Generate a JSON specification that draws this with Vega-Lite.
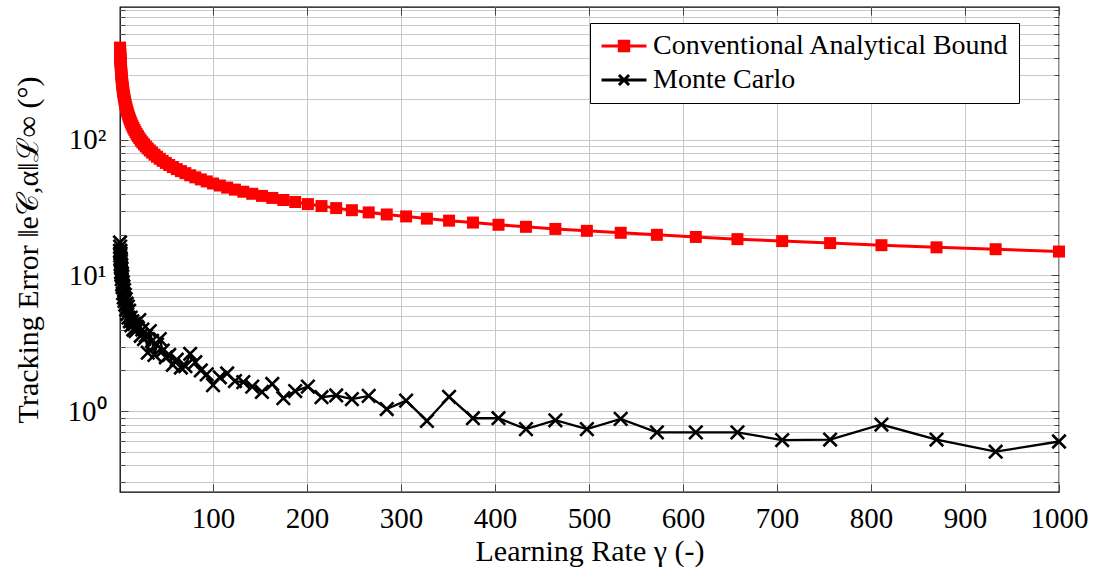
{
  "$schema": "https://vega.github.io/schema/vega-lite/v6.json",
  "width": 939,
  "height": 485,
  "autosize": {"type": "none"},
  "padding": {"left": 120, "top": 7, "right": 35, "bottom": 87},
  "background": "white",
  "config": {
    "view": {"stroke": "black", "strokeWidth": 1.3},
    "font": "Liberation Serif",
    "legend": {
      "orient": "none",
      "legendX": 470,
      "legendY": 16,
      "strokeColor": "black",
      "fillColor": "white",
      "strokeWidth": 1,
      "padding": 9,
      "labelFont": "Liberation Serif",
      "labelFontSize": 28,
      "labelColor": "black",
      "labelLimit": 600,
      "symbolSize": 506,
      "symbolStrokeWidth": 3,
      "symbolOffset": 11,
      "rowPadding": 6,
      "labelOffset": 15,
      "cornerRadius": 0
    }
  },
  "datasets": {
    "bound": [
      {"gamma": 1, "error": 475}, {"gamma": 1.072, "error": 458.7}, {"gamma": 1.15, "error": 443}, {"gamma": 1.233, "error": 427.8},
      {"gamma": 1.322, "error": 413.1}, {"gamma": 1.417, "error": 399}, {"gamma": 1.52, "error": 385.3}, {"gamma": 1.63, "error": 372.1},
      {"gamma": 1.748, "error": 359.3}, {"gamma": 1.874, "error": 347}, {"gamma": 2.009, "error": 335.1}, {"gamma": 2.154, "error": 323.6},
      {"gamma": 2.31, "error": 312.5}, {"gamma": 2.477, "error": 301.8}, {"gamma": 2.656, "error": 291.5}, {"gamma": 2.848, "error": 281.5},
      {"gamma": 3.054, "error": 271.8}, {"gamma": 3.275, "error": 262.5}, {"gamma": 3.511, "error": 253.5}, {"gamma": 3.765, "error": 244.8},
      {"gamma": 4.037, "error": 236.4}, {"gamma": 4.329, "error": 228.3}, {"gamma": 4.642, "error": 220.5}, {"gamma": 4.977, "error": 212.9},
      {"gamma": 5.337, "error": 205.6}, {"gamma": 5.722, "error": 198.6}, {"gamma": 6.136, "error": 191.8}, {"gamma": 6.579, "error": 185.2},
      {"gamma": 7.055, "error": 178.8}, {"gamma": 7.565, "error": 172.7}, {"gamma": 8.111, "error": 166.8}, {"gamma": 8.697, "error": 161.1},
      {"gamma": 9.326, "error": 155.5}, {"gamma": 10, "error": 150.2}, {"gamma": 10.72, "error": 145.1}, {"gamma": 11.5, "error": 140.1},
      {"gamma": 12.33, "error": 135.3}, {"gamma": 13.22, "error": 130.6}, {"gamma": 14.17, "error": 126.2}, {"gamma": 15.2, "error": 121.8},
      {"gamma": 16.3, "error": 117.7}, {"gamma": 17.48, "error": 113.6}, {"gamma": 18.74, "error": 109.7}, {"gamma": 20.09, "error": 106},
      {"gamma": 21.54, "error": 102.3}, {"gamma": 23.1, "error": 98.8}, {"gamma": 24.77, "error": 95.4}, {"gamma": 26.56, "error": 92.2},
      {"gamma": 28.48, "error": 89}, {"gamma": 30.54, "error": 86}, {"gamma": 32.75, "error": 83}, {"gamma": 35.11, "error": 80.2},
      {"gamma": 37.65, "error": 77.4}, {"gamma": 40.37, "error": 74.8}, {"gamma": 43.29, "error": 72.2}, {"gamma": 46.42, "error": 69.7},
      {"gamma": 49.77, "error": 67.3}, {"gamma": 53.37, "error": 65}, {"gamma": 57.22, "error": 62.8}, {"gamma": 61.36, "error": 60.6},
      {"gamma": 65.79, "error": 58.6}, {"gamma": 70.55, "error": 56.6}, {"gamma": 75.65, "error": 54.6}, {"gamma": 81.11, "error": 52.7},
      {"gamma": 86.98, "error": 50.9}, {"gamma": 93.26, "error": 49.2}, {"gamma": 100, "error": 47.5}, {"gamma": 107.2, "error": 45.9},
      {"gamma": 115, "error": 44.3}, {"gamma": 123.3, "error": 42.8}, {"gamma": 132.2, "error": 41.3}, {"gamma": 141.7, "error": 39.9},
      {"gamma": 152, "error": 38.5}, {"gamma": 163, "error": 37.2}, {"gamma": 174.8, "error": 35.9}, {"gamma": 187.4, "error": 34.7},
      {"gamma": 200.9, "error": 33.5}, {"gamma": 215.4, "error": 32.4}, {"gamma": 231, "error": 31.3}, {"gamma": 247.7, "error": 30.2},
      {"gamma": 265.6, "error": 29.1}, {"gamma": 284.8, "error": 28.1}, {"gamma": 305.4, "error": 27.2}, {"gamma": 327.5, "error": 26.2},
      {"gamma": 351.1, "error": 25.3}, {"gamma": 376.5, "error": 24.5}, {"gamma": 403.7, "error": 23.6}, {"gamma": 432.9, "error": 22.8},
      {"gamma": 464.2, "error": 22}, {"gamma": 497.7, "error": 21.3}, {"gamma": 533.7, "error": 20.6}, {"gamma": 572.2, "error": 19.9},
      {"gamma": 613.6, "error": 19.2}, {"gamma": 657.9, "error": 18.5}, {"gamma": 705.5, "error": 17.9}, {"gamma": 756.5, "error": 17.3},
      {"gamma": 811.1, "error": 16.7}, {"gamma": 869.7, "error": 16.1}, {"gamma": 932.6, "error": 15.6}, {"gamma": 1000, "error": 15}
    ],
    "montecarlo": [
      {"gamma": 1, "error": 17.5}, {"gamma": 1.072, "error": 15.2}, {"gamma": 1.15, "error": 16.3}, {"gamma": 1.233, "error": 14},
      {"gamma": 1.322, "error": 15.1}, {"gamma": 1.417, "error": 13.2}, {"gamma": 1.52, "error": 14.5}, {"gamma": 1.63, "error": 12.1},
      {"gamma": 1.748, "error": 13.4}, {"gamma": 1.874, "error": 11.5}, {"gamma": 2.009, "error": 12.8}, {"gamma": 2.154, "error": 10.6},
      {"gamma": 2.31, "error": 11.9}, {"gamma": 2.477, "error": 10.1}, {"gamma": 2.656, "error": 11.2}, {"gamma": 2.848, "error": 9.4},
      {"gamma": 3.054, "error": 10.3}, {"gamma": 3.275, "error": 8.6}, {"gamma": 3.511, "error": 9.8}, {"gamma": 3.765, "error": 8.2},
      {"gamma": 4.037, "error": 8.9}, {"gamma": 4.329, "error": 7.4}, {"gamma": 4.642, "error": 8.3}, {"gamma": 4.977, "error": 6.9},
      {"gamma": 5.337, "error": 7.8}, {"gamma": 5.722, "error": 6.5}, {"gamma": 6.136, "error": 7.2}, {"gamma": 6.579, "error": 6.1},
      {"gamma": 7.055, "error": 6.7}, {"gamma": 7.565, "error": 5.6}, {"gamma": 8.111, "error": 6.2}, {"gamma": 8.697, "error": 5.2},
      {"gamma": 9.326, "error": 5.9}, {"gamma": 10, "error": 4.9}, {"gamma": 10.72, "error": 5.5}, {"gamma": 11.5, "error": 4.6},
      {"gamma": 12.33, "error": 4.9}, {"gamma": 13.22, "error": 4.3}, {"gamma": 14.17, "error": 4.6}, {"gamma": 15.2, "error": 4},
      {"gamma": 16.3, "error": 4.4}, {"gamma": 17.48, "error": 3.9}, {"gamma": 18.74, "error": 4.2}, {"gamma": 20.09, "error": 4.1},
      {"gamma": 21.54, "error": 4.7}, {"gamma": 23.1, "error": 3.6}, {"gamma": 24.77, "error": 4}, {"gamma": 26.56, "error": 3.4},
      {"gamma": 28.48, "error": 3.6}, {"gamma": 30.54, "error": 2.7}, {"gamma": 32.75, "error": 3.9}, {"gamma": 35.11, "error": 3.3},
      {"gamma": 37.65, "error": 2.6}, {"gamma": 40.37, "error": 3.1}, {"gamma": 43.29, "error": 3.4}, {"gamma": 46.42, "error": 2.8},
      {"gamma": 49.77, "error": 2.5}, {"gamma": 53.37, "error": 2.6}, {"gamma": 57.22, "error": 2.2}, {"gamma": 61.36, "error": 2.4},
      {"gamma": 65.79, "error": 2.1}, {"gamma": 70.55, "error": 2.15}, {"gamma": 75.65, "error": 2.65}, {"gamma": 81.11, "error": 2.3},
      {"gamma": 86.98, "error": 2}, {"gamma": 93.26, "error": 1.87}, {"gamma": 100, "error": 1.56}, {"gamma": 107.2, "error": 1.78},
      {"gamma": 115, "error": 1.9}, {"gamma": 123.3, "error": 1.67}, {"gamma": 132.2, "error": 1.64}, {"gamma": 141.7, "error": 1.52},
      {"gamma": 152, "error": 1.39}, {"gamma": 163, "error": 1.59}, {"gamma": 174.8, "error": 1.25}, {"gamma": 187.4, "error": 1.41},
      {"gamma": 200.9, "error": 1.52}, {"gamma": 215.4, "error": 1.27}, {"gamma": 231, "error": 1.31}, {"gamma": 247.7, "error": 1.23},
      {"gamma": 265.6, "error": 1.3}, {"gamma": 284.8, "error": 1.04}, {"gamma": 305.4, "error": 1.2}, {"gamma": 327.5, "error": 0.85},
      {"gamma": 351.1, "error": 1.28}, {"gamma": 376.5, "error": 0.89}, {"gamma": 403.7, "error": 0.89}, {"gamma": 432.9, "error": 0.74},
      {"gamma": 464.2, "error": 0.86}, {"gamma": 497.7, "error": 0.74}, {"gamma": 533.7, "error": 0.88}, {"gamma": 572.2, "error": 0.7},
      {"gamma": 613.6, "error": 0.7}, {"gamma": 657.9, "error": 0.7}, {"gamma": 705.5, "error": 0.615}, {"gamma": 756.5, "error": 0.62},
      {"gamma": 811.1, "error": 0.8}, {"gamma": 869.7, "error": 0.62}, {"gamma": 932.6, "error": 0.505}, {"gamma": 1000, "error": 0.6}
    ],
    "series": [
      {"series": "Conventional Analytical Bound"},
      {"series": "Monte Carlo"}
    ]
  },
  "resolve": {"axis": {"x": "independent", "y": "independent"}},
  "layer": [
    {
      "data": {"name": "bound"},
      "mark": {"type": "line", "color": "#ff0000", "strokeWidth": 3},
      "encoding": {
        "x": {
          "field": "gamma", "type": "quantitative",
          "scale": {"type": "linear", "domain": [1, 1000], "nice": false, "zero": false},
          "axis": {
            "orient": "bottom",
            "values": [100, 200, 300, 400, 500, 600, 700, 800, 900, 1000],
            "format": "d",
            "grid": true, "gridColor": "#c8c8c8", "gridWidth": 1,
            "domain": false,
            "ticks": true, "tickSize": -8, "tickColor": "#444444", "tickWidth": 1,
            "labelFont": "Liberation Serif", "labelFontSize": 29, "labelColor": "black", "labelPadding": 20,
            "labelFlush": false,
            "title": "Learning Rate γ (-)",
            "titleFont": "Liberation Serif", "titleFontSize": 30, "titleFontWeight": "normal", "titleColor": "black",
            "titlePadding": 3
          }
        },
        "y": {
          "field": "error", "type": "quantitative",
          "scale": {"type": "log", "domain": [0.255, 945], "nice": false},
          "axis": {
            "orient": "left",
            "values": [0.3, 0.4, 0.5, 0.6, 0.7, 0.8, 0.9, 1, 2, 3, 4, 5, 6, 7, 8, 9, 10, 20, 30, 40, 50, 60, 70, 80, 90, 100, 200, 300, 400, 500, 600, 700, 800, 900],
            "grid": true, "gridColor": "#c8c8c8", "gridWidth": 1,
            "domain": false,
            "ticks": true,
            "tickSize": {"condition": {"test": "datum.value == 1 || datum.value == 10 || datum.value == 100", "value": -8}, "value": -5},
            "tickColor": "#444444", "tickWidth": 1,
            "labelExpr": "datum.value == 1 ? '10⁰' : datum.value == 10 ? '10¹' : datum.value == 100 ? '10²' : ''",
            "labelFont": "Liberation Serif", "labelFontSize": 29, "labelColor": "black", "labelPadding": 22,
            "labelFlush": false,
            "title": "Tracking Error ‖e𝒞,α‖ℒ∞ (°)",
            "titleFont": "Liberation Serif", "titleFontSize": 30, "titleFontWeight": "normal", "titleColor": "black",
            "titlePadding": 24
          }
        }
      }
    },
    {
      "data": {"name": "bound"},
      "mark": {"type": "point", "shape": "square", "filled": true, "color": "#ff0000", "size": 144, "opacity": 1},
      "encoding": {
        "x": {"field": "gamma", "type": "quantitative", "scale": {"type": "linear", "domain": [1, 1000], "nice": false, "zero": false}, "axis": null},
        "y": {"field": "error", "type": "quantitative", "scale": {"type": "log", "domain": [0.255, 945], "nice": false}, "axis": null}
      }
    },
    {
      "data": {"name": "montecarlo"},
      "mark": {"type": "line", "color": "#000000", "strokeWidth": 2.3},
      "encoding": {
        "x": {"field": "gamma", "type": "quantitative", "scale": {"type": "linear", "domain": [1, 1000], "nice": false, "zero": false}, "axis": null},
        "y": {"field": "error", "type": "quantitative", "scale": {"type": "log", "domain": [0.255, 945], "nice": false}, "axis": null}
      }
    },
    {
      "data": {"name": "montecarlo"},
      "mark": {"type": "point", "shape": "M-1,-1L1,1M-1,1L1,-1", "filled": false, "color": "#000000", "strokeWidth": 2.6, "size": 180, "opacity": 1},
      "encoding": {
        "x": {"field": "gamma", "type": "quantitative", "scale": {"type": "linear", "domain": [1, 1000], "nice": false, "zero": false}, "axis": null},
        "y": {"field": "error", "type": "quantitative", "scale": {"type": "log", "domain": [0.255, 945], "nice": false}, "axis": null}
      }
    },
    {
      "data": {"name": "series"},
      "transform": [{"filter": "false"}],
      "mark": {"type": "point", "filled": true, "strokeWidth": 3, "opacity": 1},
      "encoding": {
        "x": {
          "field": "gamma", "type": "quantitative",
          "scale": {"type": "linear", "domain": [1, 1000], "nice": false, "zero": false},
          "axis": {
            "orient": "top", "values": [100, 200, 300, 400, 500, 600, 700, 800, 900, 1000],
            "grid": false, "domain": false, "labels": false, "title": null,
            "ticks": true, "tickSize": -8, "tickColor": "#444444", "tickWidth": 1
          }
        },
        "y": {
          "field": "error", "type": "quantitative",
          "scale": {"type": "log", "domain": [0.255, 945], "nice": false},
          "axis": {
            "orient": "right",
            "values": [0.3, 0.4, 0.5, 0.6, 0.7, 0.8, 0.9, 1, 2, 3, 4, 5, 6, 7, 8, 9, 10, 20, 30, 40, 50, 60, 70, 80, 90, 100, 200, 300, 400, 500, 600, 700, 800, 900],
            "grid": false, "domain": false, "labels": false, "title": null,
            "ticks": true,
            "tickSize": {"condition": {"test": "datum.value == 1 || datum.value == 10 || datum.value == 100", "value": -8}, "value": -5},
            "tickColor": "#444444", "tickWidth": 1
          }
        },
        "fill": {
          "field": "series", "type": "nominal",
          "scale": {"domain": ["Conventional Analytical Bound", "Monte Carlo"], "range": ["#ff0000", "#000000"]},
          "legend": {"title": null}
        },
        "stroke": {
          "field": "series", "type": "nominal",
          "scale": {"domain": ["Conventional Analytical Bound", "Monte Carlo"], "range": ["#ff0000", "#000000"]},
          "legend": {"title": null}
        },
        "shape": {
          "field": "series", "type": "nominal",
          "scale": {
            "domain": ["Conventional Analytical Bound", "Monte Carlo"],
            "range": ["M-2,0H2M-0.42,-0.42H0.42V0.42H-0.42Z", "M-2,0H2M-0.45,-0.45L0.45,0.45M-0.45,0.45L0.45,-0.45"]
          },
          "legend": {"title": null}
        }
      }
    }
  ]
}
